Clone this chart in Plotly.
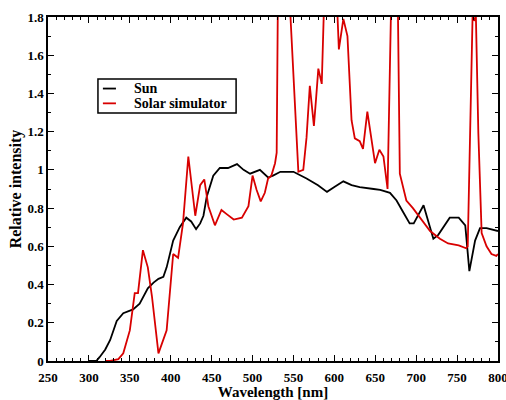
import plotly.graph_objects as go

sun_wl = [300, 309, 313, 320, 326, 334, 342, 354, 362, 372, 379, 385, 391, 395, 403, 411, 419, 425,
          431, 436, 440, 444, 452, 460, 470, 481, 489, 497, 509, 519, 525, 534, 550, 566, 580, 591,
          600, 611, 621, 631, 648, 656, 668, 676, 684, 692, 697, 709, 721, 727, 741, 752, 760, 765,
          772, 778, 786, 797, 800]
sun_val = [0, 0, 0.02, 0.06, 0.11, 0.21, 0.25, 0.27, 0.30, 0.38, 0.41, 0.43, 0.44, 0.49, 0.63, 0.70,
           0.75, 0.73, 0.69, 0.72, 0.76, 0.86, 0.97, 1.01, 1.01, 1.03, 1.0, 0.98, 1.0, 0.96, 0.97,
           0.99, 0.99, 0.955, 0.92, 0.885, 0.91, 0.94, 0.92, 0.91, 0.90, 0.895, 0.88, 0.84, 0.78,
           0.72, 0.72, 0.815, 0.64, 0.66, 0.75, 0.75, 0.71, 0.47, 0.63, 0.695, 0.695, 0.68, 0.68]

sim_wl = [320, 326, 336, 342, 350, 356, 360, 366, 372, 377, 385, 395, 403, 409, 415, 421.5, 430, 436,
          441, 446, 454, 462, 468, 477, 487, 495, 500, 505, 510, 515, 519, 523, 527.5, 529.5, 533,
          538, 544, 556, 562, 566, 570, 573.5, 575, 577.6, 580.4, 584.6, 588, 595, 602, 605.5, 611,
          616, 621, 625, 631, 635, 640.3, 649.7, 655, 660, 665, 671, 674.5, 680, 688, 696, 701, 717,
          729, 739, 752, 761, 763, 766, 769, 771, 773, 776, 780, 786, 792, 798, 800]
sim_val = [0, 0, 0.01, 0.04, 0.16, 0.355, 0.355, 0.58, 0.49, 0.34, 0.04, 0.16, 0.56, 0.54, 0.72,
           1.07, 0.76, 0.92, 0.95, 0.81, 0.71, 0.79, 0.77, 0.74, 0.75, 0.81, 0.97, 0.895, 0.835,
           0.88, 0.955, 0.97, 1.035, 1.09, 3.0, 3.5, 2.0, 0.99, 1.0, 1.17, 1.44, 1.31, 1.23, 1.37,
           1.53, 1.45, 2.6, 3.0, 2.0, 1.63, 1.79, 1.70, 1.26, 1.165, 1.15, 1.11, 1.305, 1.035, 1.105,
           1.07, 0.9, 3.0, 3.0, 0.98, 0.84, 0.80, 0.77, 0.68, 0.64, 0.615, 0.605, 0.59, 0.60, 1.19,
           1.82, 1.78, 1.8, 1.19, 0.67, 0.60, 0.56, 0.55, 0.56]

series_names = ["Sun", "Solar simulator"]
series_colors = ["black", "#d80000"]

x_ticks = [250, 300, 350, 400, 450, 500, 550, 600, 650, 700, 750, 800]
y_ticks = [0, 0.2, 0.4, 0.6, 0.8, 1.0, 1.2, 1.4, 1.6, 1.8]

FONT = "Liberation Serif"

fig = go.Figure()
for wl, val, name, col in zip([sun_wl, sim_wl], [sun_val, sim_val], series_names, series_colors):
    fig.add_trace(go.Scatter(x=wl, y=val, mode="lines", name=name, showlegend=False,
                             line=dict(color=col, width=1.8)))

axis_common = dict(
    showline=True, linecolor="black", linewidth=1.5, mirror="allticks",
    ticks="inside", ticklen=6, tickwidth=1.2, tickcolor="black",
    showgrid=False, zeroline=False, automargin=False,
    ticklabeloverflow="allow",
    tickfont=dict(family=FONT, size=13, color="black"),
)

fig.update_xaxes(range=[250, 800], tickvals=x_ticks, ticktext=[f"<b>{v}</b>" for v in x_ticks],
                 ticklabelstandoff=4,
                 minor=dict(dtick=10, tick0=250, ticks="inside", ticklen=3, tickcolor="black", tickwidth=1),
                 title=dict(text="<b>Wavelength [nm]</b>", standoff=0,
                            font=dict(family=FONT, size=15, color="black")),
                 **axis_common)
fig.update_yaxes(range=[0, 1.8], tickvals=y_ticks, ticktext=[f"<b>{v:g}</b>" for v in y_ticks],
                 minor=dict(dtick=0.1, tick0=0, ticks="inside", ticklen=3, tickcolor="black", tickwidth=1),
                 title=dict(text="<b>Relative intensity</b>", standoff=2,
                            font=dict(family=FONT, size=16, color="black")),
                 **axis_common)

# Compact legend box (paper coordinates)
box = dict(x0=0.111, x1=0.418, y0=0.721, y1=0.820)
row_y = [0.792, 0.749]
fig.add_shape(type="rect", xref="paper", yref="paper", layer="above",
              line=dict(color="black", width=1.5), fillcolor="white", **box)
for ry, name, col in zip(row_y, series_names, series_colors):
    fig.add_shape(type="line", xref="paper", yref="paper", layer="above",
                  x0=0.122, x1=0.151, y0=ry, y1=ry, line=dict(color=col, width=1.8))
    fig.add_annotation(xref="paper", yref="paper", x=0.187, y=ry, xanchor="left", yanchor="middle",
                       text=f"<b>{name}</b>", showarrow=False,
                       font=dict(family=FONT, size=14, color="black"))

fig.update_layout(
    width=506, height=400,
    margin=dict(l=48, r=8, t=17, b=39),
    plot_bgcolor="white", paper_bgcolor="white",
    font=dict(family=FONT, color="black"),
    showlegend=False,
)

fig.write_html("out.html", config={"displayModeBar": False},
               post_script="document.body.style.margin='0';document.body.style.padding='0';document.body.style.overflow='hidden';")
